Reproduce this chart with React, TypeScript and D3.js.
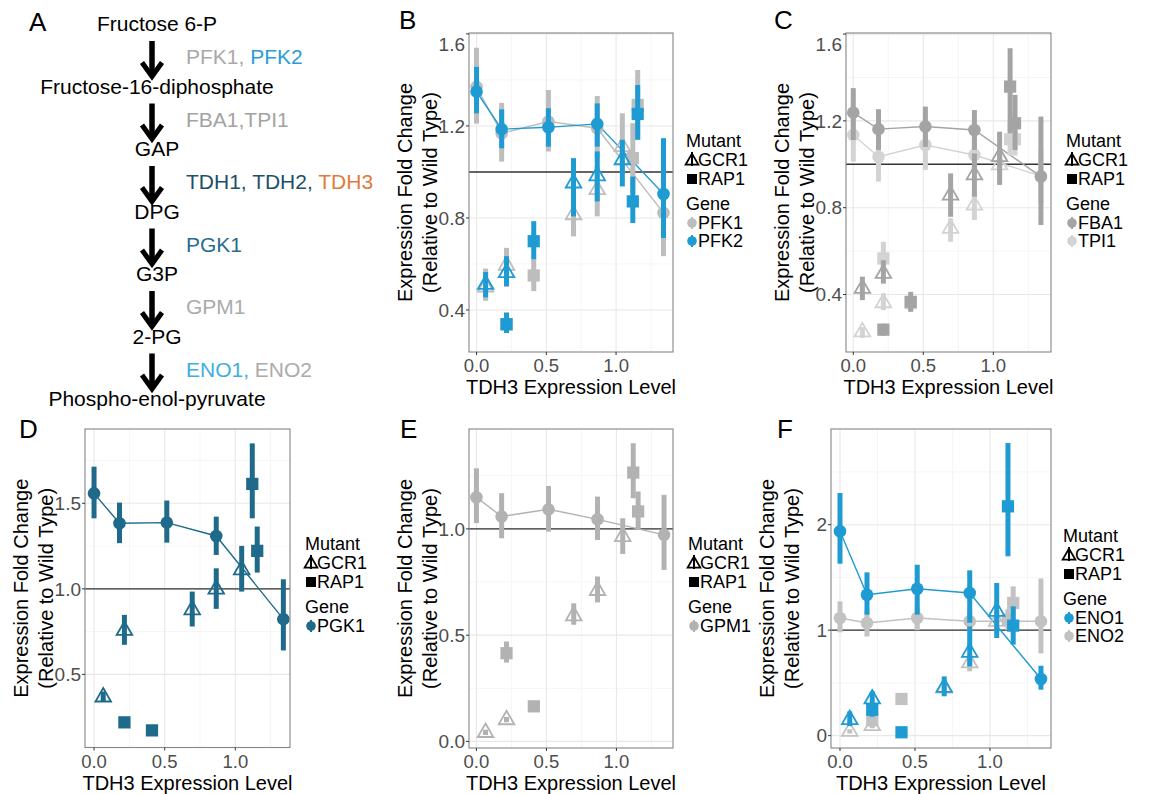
import React from 'react';
import * as d3 from 'd3';

type PR = [number, number, number]; // [mean, low, high]

// TDH3 expression level of each strain group
const X_WT = [0, 0.18, 0.515, 0.865, 1.34];
const X_GCR1 = [0.065, 0.215, 0.695, 0.865, 1.045];
const X_RAP1 = [0.215, 0.41, 1.12, 1.155];

const X_TICKS = [0, 0.5, 1.0];
const X_MINOR = [0.25, 0.75, 1.25];

// Panel B
const PFK1_WT: PR[] = [[1.37, 1.21, 1.54], [1.168, 1.045, 1.3], [1.219, 1.089, 1.356], [1.19, 1.06, 1.33], [0.822, 0.634, 1.0]];
const PFK1_GCR1: PR[] = [[0.5, 0.44, 0.58], [0.594, 0.5, 0.67], [0.814, 0.72, 0.9], [0.923, 0.807, 1.024], [1.11, 0.995, 1.255]];
const PFK1_RAP1: PR[] = [[0.338, 0.3, 0.39], [0.55, 0.482, 0.62], [1.06, 0.908, 1.212], [1.291, 1.14, 1.443]];
const PFK2_WT: PR[] = [[1.349, 1.255, 1.457], [1.186, 1.103, 1.272], [1.194, 1.11, 1.277], [1.209, 1.11, 1.298], [0.904, 0.713, 1.147]];
const PFK2_GCR1: PR[] = [[0.511, 0.455, 0.565], [0.562, 0.504, 0.634], [0.952, 0.807, 1.06], [0.983, 0.872, 1.089], [1.053, 0.937, 1.14]];
const PFK2_RAP1: PR[] = [[0.338, 0.3, 0.388], [0.699, 0.62, 0.786], [0.872, 0.778, 0.98], [1.252, 1.14, 1.378]];

// Panel C
const FBA1_WT: PR[] = [[1.238, 1.112, 1.351], [1.162, 1.066, 1.254], [1.174, 1.08, 1.266], [1.158, 1.066, 1.25], [0.943, 0.72, 1.22]];
const FBA1_GCR1: PR[] = [[0.428, 0.374, 0.482], [0.497, 0.45, 0.558], [0.858, 0.758, 0.958], [0.951, 0.851, 1.05], [1.035, 0.905, 1.15]];
const FBA1_RAP1: PR[] = [[0.238, 0.21, 0.265], [0.366, 0.32, 0.412], [1.358, 1.143, 1.535], [1.189, 1.066, 1.32]];
const TPI1_WT: PR[] = [[1.135, 1.012, 1.258], [1.035, 0.92, 1.13], [1.089, 0.974, 1.18], [1.043, 0.96, 1.13], [0.946, 0.82, 1.07]];
const TPI1_GCR1: PR[] = [[0.228, 0.2, 0.25], [0.362, 0.328, 0.405], [0.705, 0.643, 0.751], [0.812, 0.743, 0.866], [0.997, 0.928, 1.05]];
const TPI1_RAP1: PR[] = [[0.566, 0.497, 0.643], [0.36, 0.33, 0.39], [1.115, 1.04, 1.2], [1.115, 1.04, 1.2]];

// Panel D
const PGK1_WT: PR[] = [[1.558, 1.412, 1.714], [1.383, 1.267, 1.504], [1.387, 1.27, 1.516], [1.309, 1.198, 1.422], [0.823, 0.64, 1.056]];
const PGK1_GCR1: PR[] = [[0.368, 0.34, 0.4], [0.757, 0.673, 0.848], [0.877, 0.78, 0.984], [0.998, 0.883, 1.12], [1.111, 0.984, 1.251]];
const PGK1_RAP1: PR[] = [[0.22, 0.2, 0.24], [0.173, 0.16, 0.19], [1.613, 1.412, 1.85], [1.222, 1.095, 1.364]];

// Panel E
const GPM1_WT: PR[] = [[1.149, 1.027, 1.285], [1.058, 0.956, 1.168], [1.092, 0.987, 1.202], [1.045, 0.948, 1.152], [0.972, 0.807, 1.16]];
const GPM1_GCR1: PR[] = [[0.042, 0.03, 0.055], [0.102, 0.09, 0.115], [0.591, 0.549, 0.65], [0.71, 0.654, 0.776], [0.964, 0.882, 1.05]];
const GPM1_RAP1: PR[] = [[0.415, 0.371, 0.47], [0.165, 0.15, 0.18], [1.265, 1.144, 1.403], [1.082, 0.995, 1.176]];

// Panel F
const ENO1_WT: PR[] = [[1.937, 1.63, 2.3], [1.336, 1.147, 1.548], [1.393, 1.147, 1.62], [1.352, 1.07, 1.567], [0.537, 0.436, 0.663]];
const ENO1_GCR1: PR[] = [[0.152, 0.09, 0.23], [0.348, 0.26, 0.42], [0.458, 0.373, 0.562], [0.79, 0.657, 1.036], [1.178, 0.926, 1.447]];
const ENO1_RAP1: PR[] = [[0.246, 0.18, 0.31], [0.032, 0.0, 0.06], [2.174, 1.7, 2.774], [1.043, 0.863, 1.226]];
const ENO2_WT: PR[] = [[1.115, 0.98, 1.273], [1.068, 0.94, 1.19], [1.115, 1.0, 1.22], [1.084, 0.98, 1.19], [1.084, 0.78, 1.49]];
const ENO2_GCR1: PR[] = [[0.041, 0.02, 0.06], [0.095, 0.07, 0.12], [0.45, 0.4, 0.5], [0.689, 0.61, 0.77], [1.084, 0.98, 1.19]];
const ENO2_RAP1: PR[] = [[0.145, 0.1, 0.19], [0.348, 0.33, 0.37], [1.1, 1.0, 1.2], [1.258, 1.068, 1.415]];

// Pathway (panel A)
const METABOLITES = ['Fructose 6-P', 'Fructose-16-diphosphate', 'GAP', 'DPG', 'G3P', '2-PG', 'Phospho-enol-pyruvate'];
const ENZYMES: [string, string][][] = [
  [['PFK1, ', '#a9a9a9'], ['PFK2', '#2a9dd5']],
  [['FBA1,TPI1', '#a3a3a3']],
  [['TDH1, TDH2, ', '#1d4f69'], ['TDH3', '#df7a3a']],
  [['PGK1', '#286d8d']],
  [['GPM1', '#ababab']],
  [['ENO1, ', '#3eafe0'], ['ENO2', '#ababab']],
];

const FONT = "'Liberation Sans', Arial, Helvetica, sans-serif";
const TICK_COL = '#4d4d4d';

type Gene = { name: string; color: string; wt: PR[]; gcr: PR[]; rap: PR[] };
const G_PFK1: Gene = { name: 'PFK1', color: '#bdbdbd', wt: PFK1_WT, gcr: PFK1_GCR1, rap: PFK1_RAP1 };
const G_PFK2: Gene = { name: 'PFK2', color: '#1f9bd3', wt: PFK2_WT, gcr: PFK2_GCR1, rap: PFK2_RAP1 };
const G_FBA1: Gene = { name: 'FBA1', color: '#a4a4a4', wt: FBA1_WT, gcr: FBA1_GCR1, rap: FBA1_RAP1 };
const G_TPI1: Gene = { name: 'TPI1', color: '#d3d3d3', wt: TPI1_WT, gcr: TPI1_GCR1, rap: TPI1_RAP1 };
const G_PGK1: Gene = { name: 'PGK1', color: '#1f6a8b', wt: PGK1_WT, gcr: PGK1_GCR1, rap: PGK1_RAP1 };
const G_GPM1: Gene = { name: 'GPM1', color: '#b2b2b2', wt: GPM1_WT, gcr: GPM1_GCR1, rap: GPM1_RAP1 };
const G_ENO1: Gene = { name: 'ENO1', color: '#1f9bd3', wt: ENO1_WT, gcr: ENO1_GCR1, rap: ENO1_RAP1 };
const G_ENO2: Gene = { name: 'ENO2', color: '#c2c2c2', wt: ENO2_WT, gcr: ENO2_GCR1, rap: ENO2_RAP1 };

type Cfg = {
  key: string; box: [number, number, number, number]; xDom: [number, number]; yDom: [number, number];
  yTicks: number[]; yMinor: number[]; yFmt: string; draw: Gene[]; legendGenes: Gene[];
  legend: [number, number]; label: [number, number];
};

const PANELS: Cfg[] = [
  { key: 'B', box: [469, 33, 673, 352], xDom: [-0.054, 1.408], yDom: [0.2174, 1.604], yTicks: [0.4, 0.8, 1.2, 1.6], yMinor: [0.6, 1.0, 1.4], yFmt: '.1f', draw: [G_PFK1, G_PFK2], legendGenes: [G_PFK1, G_PFK2], legend: [686, 147], label: [399, 29] },
  { key: 'C', box: [846, 33, 1051, 352], xDom: [-0.052, 1.412], yDom: [0.135, 1.605], yTicks: [0.4, 0.8, 1.2, 1.6], yMinor: [0.6, 1.0, 1.4], yFmt: '.1f', draw: [G_TPI1, G_FBA1], legendGenes: [G_FBA1, G_TPI1], legend: [1066, 147], label: [774, 29] },
  { key: 'D', box: [85, 429, 290, 747.5], xDom: [-0.064, 1.387], yDom: [0.073, 1.934], yTicks: [0.5, 1.0, 1.5], yMinor: [0.75, 1.25, 1.75], yFmt: '.1f', draw: [G_PGK1], legendGenes: [G_PGK1], legend: [305, 550], label: [19, 438] },
  { key: 'E', box: [469, 429, 673, 748], xDom: [-0.053, 1.404], yDom: [-0.031, 1.47], yTicks: [0, 0.5, 1.0], yMinor: [0.25, 0.75, 1.25], yFmt: '.1f', draw: [G_GPM1], legendGenes: [G_GPM1], legend: [688, 550], label: [400, 438] },
  { key: 'F', box: [831, 429, 1051, 748], xDom: [-0.06, 1.407], yDom: [-0.117, 2.907], yTicks: [0, 1, 2], yMinor: [0.5, 1.5, 2.5], yFmt: 'd', draw: [G_ENO2, G_ENO1], legendGenes: [G_ENO1, G_ENO2], legend: [1063, 542], label: [777, 438] },
];

const triPath = d3.symbol().type(d3.symbolTriangle).size(105)() as string;
const sqPath = d3.symbol().type(d3.symbolSquare).size(150)() as string;
const triKey = d3.symbol().type(d3.symbolTriangle).size(70)() as string;
const sqKey = d3.symbol().type(d3.symbolSquare).size(100)() as string;

function Panel({ cfg }: { cfg: Cfg }) {
  const [l, t, r, b] = cfg.box;
  const x = d3.scaleLinear().domain(cfg.xDom).range([l, r]);
  const y = d3.scaleLinear().domain(cfg.yDom).range([b, t]);
  const fmt = d3.format(cfg.yFmt);
  const line = d3.line<[number, number]>().x((d) => x(d[0])).y((d) => y(d[1]));
  const cy = (t + b) / 2;
  const [lx, ly] = cfg.legend;
  const rows = [0, 19, 38, 63, 82, 100];

  const bar = (xv: number, p: PR, color: string, k: string) => (
    <line key={k} x1={x(xv)} x2={x(xv)} y1={y(p[1])} y2={y(p[2])} stroke={color} strokeWidth={5} />
  );

  return (
    <g>
      <rect x={l} y={t} width={r - l} height={b - t} fill="#fff" />
      {cfg.yMinor.map((v) => <line key={'ym' + v} x1={l} x2={r} y1={y(v)} y2={y(v)} stroke="#f3f3f3" strokeWidth={0.8} />)}
      {X_MINOR.map((v) => <line key={'xm' + v} x1={x(v)} x2={x(v)} y1={t} y2={b} stroke="#f3f3f3" strokeWidth={0.8} />)}
      {cfg.yTicks.map((v) => <line key={'yg' + v} x1={l} x2={r} y1={y(v)} y2={y(v)} stroke="#e8e8e8" strokeWidth={1.1} />)}
      {X_TICKS.map((v) => <line key={'xg' + v} x1={x(v)} x2={x(v)} y1={t} y2={b} stroke="#e8e8e8" strokeWidth={1.1} />)}
      <line x1={l} x2={r} y1={y(1)} y2={y(1)} stroke="#333" strokeWidth={1.4} />
      {cfg.draw.map((g) => (
        <path key={'ln' + g.name} d={line(X_WT.map((xv, i) => [xv, g.wt[i][0]] as [number, number])) as string} fill="none" stroke={g.color} strokeWidth={1.4} />
      ))}
      {cfg.draw.map((g) => (
        <g key={'pts' + g.name}>
          {g.gcr.map((p, i) => (
            <g key={'g' + i}>
              {bar(X_GCR1[i], p, g.color, 'b')}
              <path d={triPath} transform={`translate(${x(X_GCR1[i])},${y(p[0])})`} fill="none" stroke={g.color} strokeWidth={1.8} />
            </g>
          ))}
          {g.rap.map((p, i) => (
            <g key={'r' + i}>
              {bar(X_RAP1[i], p, g.color, 'b')}
              <path d={sqPath} transform={`translate(${x(X_RAP1[i])},${y(p[0])})`} fill={g.color} />
            </g>
          ))}
          {g.wt.map((p, i) => (
            <g key={'w' + i}>
              {bar(X_WT[i], p, g.color, 'b')}
              <circle cx={x(X_WT[i])} cy={y(p[0])} r={6.3} fill={g.color} />
            </g>
          ))}
        </g>
      ))}
      <rect x={l} y={t} width={r - l} height={b - t} fill="none" stroke="#858585" strokeWidth={1.1} />
      {cfg.yTicks.map((v) => (
        <g key={'yt' + v}>
          <line x1={l - 3} x2={l} y1={y(v)} y2={y(v)} stroke="#333" strokeWidth={1} />
          <text x={l - 4} y={Math.max(y(v), t + 11) + 6.8} textAnchor="end" fontSize={19} fill={TICK_COL}>{fmt(v)}</text>
        </g>
      ))}
      {X_TICKS.map((v) => (
        <g key={'xt' + v}>
          <line x1={x(v)} x2={x(v)} y1={b} y2={b + 3} stroke="#333" strokeWidth={1} />
          <text x={x(v)} y={b + 20} textAnchor="middle" fontSize={18.5} fill={TICK_COL}>{d3.format('.1f')(v)}</text>
        </g>
      ))}
      <text x={(l + r) / 2} y={b + 42.3} textAnchor="middle" fontSize={20}>TDH3 Expression Level</text>
      <text transform={`translate(${l - 57},${cy}) rotate(-90)`} textAnchor="middle" fontSize={20}>Expression Fold Change</text>
      <text transform={`translate(${l - 32},${cy}) rotate(-90)`} textAnchor="middle" fontSize={20}>(Relative to Wild Type)</text>
      <text x={cfg.label[0]} y={cfg.label[1]} fontSize={26}>{cfg.key}</text>
      <g fontSize={18}>
        <text x={lx} y={ly + rows[0]}>Mutant</text>
        <line x1={lx + 6} x2={lx + 6} y1={ly + rows[1] - 14} y2={ly + rows[1]} stroke="#000" strokeWidth={2} />
        <path d={triKey} transform={`translate(${lx + 6},${ly + rows[1] - 5})`} fill="none" stroke="#000" strokeWidth={1.8} />
        <text x={lx + 12} y={ly + rows[1]}>GCR1</text>
        <path d={sqKey} transform={`translate(${lx + 6},${ly + rows[2] - 6})`} fill="#000" />
        <text x={lx + 12} y={ly + rows[2]}>RAP1</text>
        <text x={lx} y={ly + rows[3]}>Gene</text>
        {cfg.legendGenes.map((g, i) => (
          <g key={'lg' + g.name}>
            <line x1={lx + 6} x2={lx + 6} y1={ly + rows[4 + i] - 12} y2={ly + rows[4 + i]} stroke={g.color} strokeWidth={2} />
            <circle cx={lx + 6} cy={ly + rows[4 + i] - 6} r={4.8} fill={g.color} />
            <text x={lx + 12} y={ly + rows[4 + i]}>{g.name}</text>
          </g>
        ))}
      </g>
    </g>
  );
}

function Pathway() {
  const ax = 152;
  const mb = (i: number) => 31 + i * 62.5;
  return (
    <g>
      <text x={29} y={31} fontSize={26}>A</text>
      {METABOLITES.map((m, i) => (
        <text key={m} x={157} y={mb(i)} textAnchor="middle" fontSize={21}>{m}</text>
      ))}
      {ENZYMES.map((parts, i) => {
        const top = mb(i) + 10;
        const tip = mb(i + 1) - 17;
        return (
          <g key={'e' + i}>
            <line x1={ax} x2={ax} y1={top} y2={tip - 3} stroke="#000" strokeWidth={5.5} />
            <path d={`M${ax - 10},${tip - 14} L${ax},${tip} L${ax + 10},${tip - 14}`} fill="none" stroke="#000" strokeWidth={5} strokeLinejoin="miter" />
            <text x={186} y={mb(i) + 33} fontSize={21}>
              {parts.map(([s, c], j) => <tspan key={j} fill={c}>{s}</tspan>)}
            </text>
          </g>
        );
      })}
    </g>
  );
}

export default function App() {
  return (
    <svg width={1150} height={794} style={{ position: 'absolute', left: 0, top: 0, display: 'block', background: '#fff' }} fontFamily={FONT}>
      <rect x={0} y={0} width={1150} height={794} fill="#fff" />
      <Pathway />
      {PANELS.map((c) => <Panel key={c.key} cfg={c} />)}
    </svg>
  );
}
